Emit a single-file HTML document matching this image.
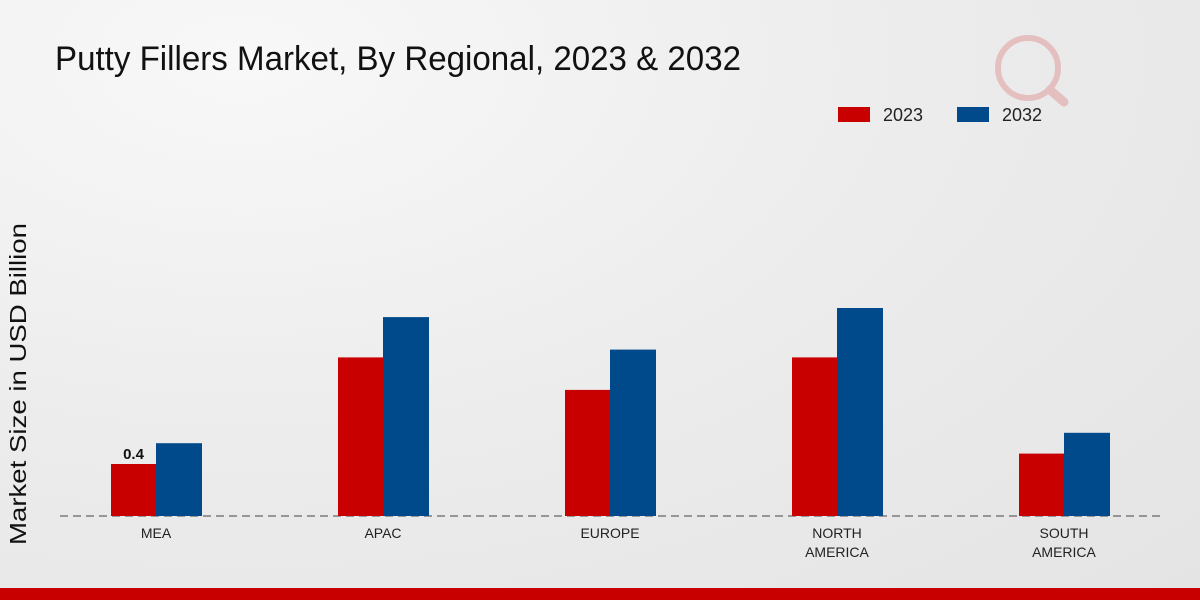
<!DOCTYPE html>
<html><head><meta charset="utf-8"><style>
body{margin:0;width:1200px;height:600px;overflow:hidden;font-family:"Liberation Sans",sans-serif}
#bg{position:absolute;left:0;top:0;width:1200px;height:600px;background:radial-gradient(ellipse at 20% 10%,#f8f8f8 0%,#ececec 50%,#e4e4e4 100%)}
</style></head><body>
<div id="bg"></div>
<svg id="c" width="1200" height="600" style="position:absolute;left:0;top:0">
<text x="55" y="70" font-size="34" fill="#111" textLength="686" lengthAdjust="spacingAndGlyphs">Putty Fillers Market, By Regional, 2023 &amp; 2032</text>
<g opacity="0.18">
<circle cx="1028" cy="68" r="30" fill="none" stroke="#c00" stroke-width="6"/>
<line x1="1050" y1="90" x2="1064" y2="102" stroke="#c00" stroke-width="9" stroke-linecap="round"/>
</g>
<rect x="838" y="107" width="32" height="15" fill="#c80000"/>
<text x="883" y="121" font-size="18" fill="#222">2023</text>
<rect x="957" y="107" width="32" height="15" fill="#004a8b"/>
<text x="1002" y="121" font-size="18" fill="#222">2032</text>
<text transform="translate(26,384) rotate(-90)" text-anchor="middle" font-size="23" fill="#111" textLength="322" lengthAdjust="spacingAndGlyphs">Market Size in USD Billion</text>
<line x1="60" y1="516" x2="1160" y2="516" stroke="#444" stroke-dasharray="8,5"/>
<rect x="0" y="588" width="1200" height="12" fill="#c80000"/>
<g id="bars"></g>
</svg>
<script>
const categories=[["MEA"],["APAC"],["EUROPE"],["NORTH","AMERICA"],["SOUTH","AMERICA"]];
const values2023=[0.4,1.22,0.97,1.22,0.48];
const values2032=[0.56,1.53,1.28,1.6,0.64];
const labels2023=["0.4","","","",""];
const ns="http://www.w3.org/2000/svg";
const g=document.getElementById('bars');
const x0=156,step=227,bw=45,base=516,k=130;
const y=v=>base-v*k;
function mk(t,a){const e=document.createElementNS(ns,t);for(const n in a)e.setAttribute(n,a[n]);g.appendChild(e);return e;}
categories.forEach((c,i)=>{
 const cx=x0+i*step;
 let r=mk('rect',{x:cx-bw,y:y(values2023[i]),width:bw,height:values2023[i]*k,fill:'#c80000'});
 
 
 let b=mk('rect',{x:cx,y:y(values2032[i]),width:bw+1,height:values2032[i]*k,fill:'#004a8b'});
 
 
 if(labels2023[i]){let t=mk('text',{x:cx-bw/2,y:y(values2023[i])-5,'text-anchor':'middle','font-size':15,'font-weight':'bold',fill:'#111'});t.textContent=labels2023[i];
 
 }
 c.forEach((ln,j)=>{let t=mk('text',{x:cx,y:538+j*19,'text-anchor':'middle','font-size':14,fill:'#222'});t.textContent=ln;
 
 });
});
</script>
</body></html>
